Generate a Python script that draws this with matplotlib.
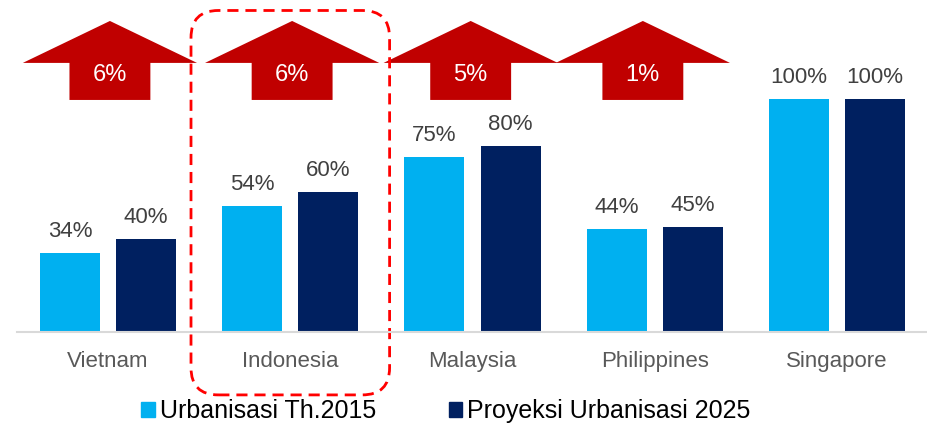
import matplotlib.pyplot as plt
import numpy as np
from matplotlib.patches import Polygon, FancyBboxPatch, Patch

countries = ["Vietnam", "Indonesia", "Malaysia", "Philippines", "Singapore"]
urban_2015 = [34, 54, 75, 44, 100]
urban_2025 = [40, 60, 80, 45, 100]
series_names = ["Urbanisasi Th.2015", "Proyeksi Urbanisasi 2025"]

light = "#00B0F0"
navy = "#002060"
red_arrow = "#C00000"

plt.rcParams['font.family'] = ['Liberation Sans', 'DejaVu Sans']

fig = plt.figure(figsize=(9.28, 4.28), dpi=100)
ax = fig.add_axes([17/928, 96/428, 911/928, 332/428])

x = np.arange(len(countries))
w = 0.33
off = 0.209
b1 = ax.bar(x - off, urban_2015, w, color=light)
b2 = ax.bar(x + off, urban_2025, w, color=navy)

for bars, vals in [(b1, urban_2015), (b2, urban_2025)]:
    for rect, v in zip(bars, vals):
        ax.annotate(f"{v}%", (rect.get_x() + rect.get_width()/2, v),
                    xytext=(0, 8), textcoords="offset points",
                    ha="center", va="bottom", fontsize=16, color="#404040")

ax.set_xlim(-0.5, 4.5)
ax.set_ylim(0, 142.5)
ax.set_xticks(x)
ax.set_xticklabels(countries, fontsize=16, color="#595959")
ax.tick_params(axis="x", length=0, pad=14)
ax.set_yticks([])
for s in ["top", "left", "right"]:
    ax.spines[s].set_visible(False)
ax.spines["bottom"].set_color("#D9D9D9")
ax.spines["bottom"].set_linewidth(1.5)

# growth arrows
nudge = [0.01, 0.01, -0.01, -0.065]
half_w, half_shaft = 0.478, 0.222
y_tip, y_sh, y_bot = 133.5, 115.5, 99.6
for i in range(4):
    diff = urban_2025[i] - urban_2015[i]
    cx = x[i] + nudge[i]
    pts = [(cx, y_tip), (cx + half_w, y_sh), (cx + half_shaft, y_sh),
           (cx + half_shaft, y_bot), (cx - half_shaft, y_bot),
           (cx - half_shaft, y_sh), (cx - half_w, y_sh)]
    ax.add_patch(Polygon(pts, closed=True, color=red_arrow, lw=0, clip_on=False))
    ax.text(cx, 110.5, f"{diff}%", ha="center", va="center",
            color="white", fontsize=17)

# dashed highlight around Indonesia
box = FancyBboxPatch((x[1] - 0.545, -27), 1.09, 165,
                     boxstyle="round,pad=0,rounding_size=0.15",
                     mutation_aspect=78, fill=False, edgecolor="#FF0000",
                     linewidth=2, linestyle=(0, (4, 2.5)), clip_on=False)
ax.add_patch(box)

handles = [Patch(color=light), Patch(color=navy)]
fig.legend(handles, series_names, loc="center", bbox_to_anchor=(446/928, 17/428),
           ncol=2, frameon=False, fontsize=18, handlelength=0.55, handleheight=0.55,
           handletextpad=0.2, columnspacing=2.9, borderpad=0)

fig.savefig("out.png", dpi=100)
